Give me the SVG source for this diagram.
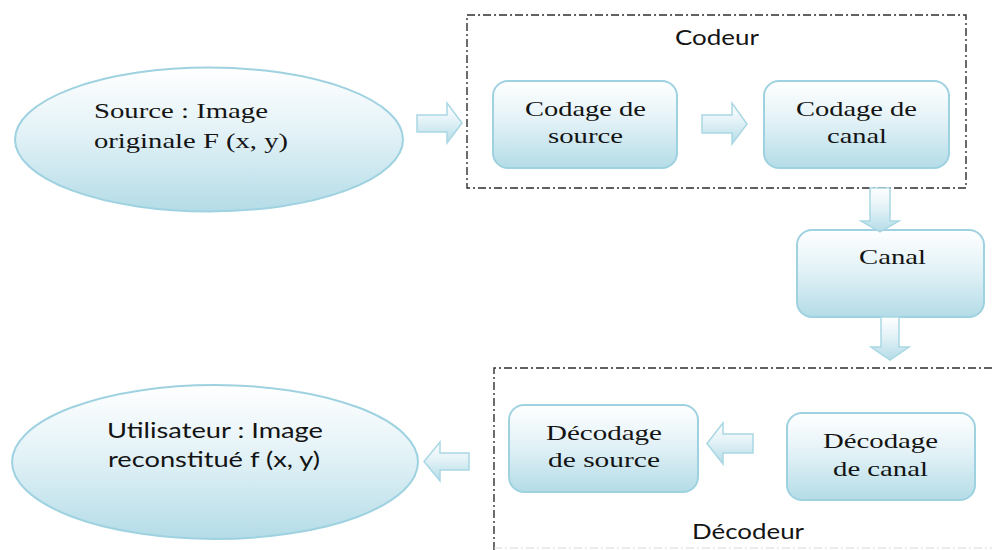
<svg xmlns="http://www.w3.org/2000/svg" width="992" height="550" viewBox="0 0 992 550">
  <defs>
    <linearGradient id="aqua" x1="0" y1="0" x2="0" y2="1">
      <stop offset="0" stop-color="#ffffff"/>
      <stop offset="0.45" stop-color="#e3f2f7"/>
      <stop offset="1" stop-color="#b4dce7"/>
    </linearGradient>
    <style>
      .shape { fill: url(#aqua); stroke: #9fd2e0; stroke-width: 2; }
      .arrow { fill: url(#aqua); stroke: #a9d7e4; stroke-width: 1.5; stroke-linejoin: miter; }
      .frame { fill: none; stroke: #2e2e2e; stroke-width: 1.4; stroke-dasharray: 8 3 2 3; }
      .tnr { font-family: Liberation Serif, Times New Roman, Times, serif; font-size: 22px; fill: #141414; }
      .cal { font-family: Lato, Liberation Sans, sans-serif; font-size: 21px; fill: #141414; }
    </style>
  </defs>

  <!-- dashed enclosures -->
  <g id="codeur">
    <rect class="frame" x="467" y="15" width="499" height="173"/>
    <text class="cal" x="675" y="45" textLength="84" lengthAdjust="spacingAndGlyphs">Codeur</text>
  </g>
  <g id="decodeur">
    <path class="frame" d="M 992 368 H 494 V 550"/>
    <path d="M 494 548 H 992" fill="none" stroke="#d9d9d9" stroke-width="1.2" stroke-dasharray="8 3 2 3"/>
    <text class="cal" x="692" y="539" textLength="112" lengthAdjust="spacingAndGlyphs">Décodeur</text>
  </g>

  <!-- nodes -->
  <g id="source">
    <ellipse class="shape" cx="209" cy="139.5" rx="194" ry="72"/>
    <text class="tnr" x="94" y="118" textLength="174" lengthAdjust="spacingAndGlyphs">Source : Image</text>
    <text class="tnr" x="94" y="148" textLength="194" lengthAdjust="spacingAndGlyphs">originale F (x, y)</text>
  </g>
  <g id="codage-source">
    <rect class="shape" x="493" y="81" width="184" height="87" rx="15"/>
    <text class="tnr" x="525" y="116" textLength="121" lengthAdjust="spacingAndGlyphs">Codage de</text>
    <text class="tnr" x="548" y="143" textLength="75" lengthAdjust="spacingAndGlyphs">source</text>
  </g>
  <g id="codage-canal">
    <rect class="shape" x="764" y="81" width="185" height="87" rx="15"/>
    <text class="tnr" x="796" y="116" textLength="121" lengthAdjust="spacingAndGlyphs">Codage de</text>
    <text class="tnr" x="827" y="143" textLength="60" lengthAdjust="spacingAndGlyphs">canal</text>
  </g>
  <g id="canal">
    <rect class="shape" x="797" y="230" width="187" height="87" rx="15"/>
    <text class="tnr" x="859" y="264" textLength="67" lengthAdjust="spacingAndGlyphs">Canal</text>
  </g>
  <g id="decodage-canal">
    <rect class="shape" x="787" y="413" width="188" height="87" rx="15"/>
    <text class="tnr" x="823" y="448" textLength="115" lengthAdjust="spacingAndGlyphs">Décodage</text>
    <text class="tnr" x="833" y="475.5" textLength="95" lengthAdjust="spacingAndGlyphs">de canal</text>
  </g>
  <g id="decodage-source">
    <rect class="shape" x="509" y="405" width="189" height="87" rx="15"/>
    <text class="tnr" x="546" y="440" textLength="116" lengthAdjust="spacingAndGlyphs">Décodage</text>
    <text class="tnr" x="548" y="466.5" textLength="112" lengthAdjust="spacingAndGlyphs">de source</text>
  </g>
  <g id="utilisateur">
    <ellipse class="shape" cx="215" cy="462" rx="203" ry="77"/>
    <text class="cal" x="107" y="438" textLength="216" lengthAdjust="spacingAndGlyphs">Utilisateur : Image</text>
    <text class="cal" x="108" y="467" textLength="212" lengthAdjust="spacingAndGlyphs">reconstitué f (x, y)</text>
  </g>

  <!-- block arrows -->
  <g id="connectors">
    <path class="arrow" d="M 417 115 H 447 V 103 L 462 123 L 447 143 V 132 H 417 Z"/>
    <path class="arrow" d="M 702 115 H 732 V 103 L 747 124 L 732 144 V 133 H 702 Z"/>
    <path class="arrow" d="M 870 188 V 221 H 861 L 880 232 L 899 221 H 890 V 188 Z"/>
    <path class="arrow" d="M 881 317 V 347 H 871 L 890 360 L 909 347 H 899 V 317 Z"/>
    <path class="arrow" d="M 753 434 H 723 V 423 L 707 443.5 L 723 464 V 453 H 753 Z"/>
    <path class="arrow" d="M 469 453 H 440 V 442 L 424 461.5 L 440 481 V 470 H 469 Z"/>
  </g>
</svg>
